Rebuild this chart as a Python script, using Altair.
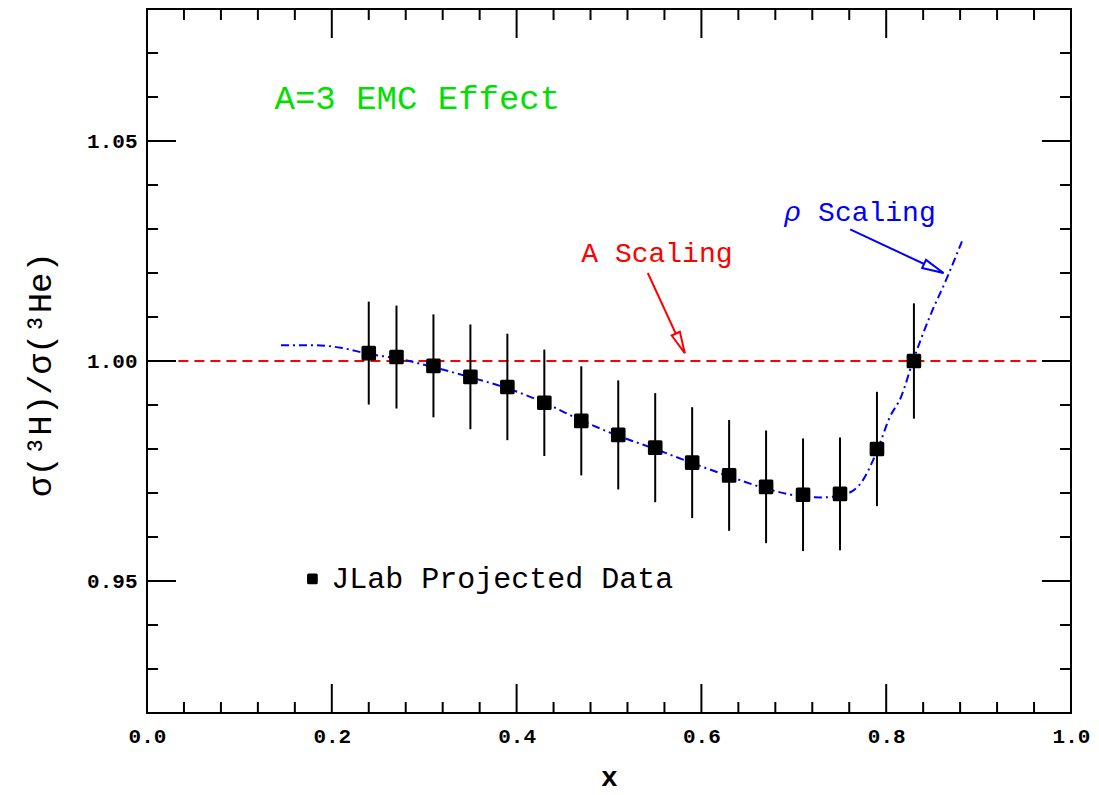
import math
import altair as alt
import pandas as pd

# ---------------- data ----------------
x_data = [0.24, 0.27, 0.31, 0.35, 0.39, 0.43, 0.47, 0.51, 0.55, 0.59, 0.63, 0.67, 0.71, 0.75, 0.79, 0.83]
y_data = [1.0018, 1.0009, 0.9989, 0.9964, 0.9941, 0.9905, 0.9864, 0.9832, 0.9803, 0.9769, 0.9740, 0.9714,
          0.9696, 0.9698, 0.9800, 1.0000]
y_err = [0.0117, 0.0117, 0.0117, 0.0119, 0.0121, 0.0121, 0.0124, 0.0124, 0.0124, 0.0126, 0.0126, 0.0128,
         0.0128, 0.0128, 0.0130, 0.0131]

rho_x = [0.145, 0.18, 0.21, 0.24, 0.27, 0.31, 0.35, 0.39, 0.43, 0.47, 0.51, 0.55, 0.59, 0.63, 0.67, 0.71,
         0.73, 0.75, 0.77, 0.79, 0.804, 0.816, 0.829, 0.847, 0.866, 0.882]
rho_y = [1.0036, 1.0036, 1.0030, 1.0016, 1.0006, 0.9986, 0.9963, 0.9938, 0.9905, 0.9865, 0.9830, 0.9800,
         0.9768, 0.9738, 0.9710, 0.9692, 0.9690, 0.9694, 0.9716, 0.9795, 0.9873, 0.9918, 1.0000, 1.0100,
         1.0190, 1.0272]

a_line_x = [0.034, 0.967]
a_line_y = [1.0, 1.0]

x_tick_labels = [0.0, 0.2, 0.4, 0.6, 0.8, 1.0]
y_tick_labels = [0.95, 1.00, 1.05]
x_major_ticks = [0.2, 0.4, 0.6, 0.8]
x_minor_ticks = [0.04, 0.08, 0.12, 0.16, 0.24, 0.28, 0.32, 0.36, 0.44, 0.48, 0.52, 0.56,
                 0.64, 0.68, 0.72, 0.76, 0.84, 0.88, 0.92, 0.96]
y_major_ticks = [0.95, 1.00, 1.05]
y_minor_ticks = [0.93, 0.94, 0.96, 0.97, 0.98, 0.99, 1.01, 1.02, 1.03, 1.04, 1.06, 1.07]

X_DOMAIN = [0.0, 1.0]
Y_DOMAIN = [0.92, 1.08]

# annotations
title_text = ["A=3 EMC Effect"]
title_x = [0.138]
title_y = [1.0595]

legend_text = ["JLab Projected Data"]
legend_text_x = [0.1994]
legend_y = [0.9505]
legend_marker_x = [0.179]

a_label = ["A Scaling"]
a_label_x = [0.470]
a_label_y = [1.0243]

rho_sym = ["ρ"]
rho_sym_x = [0.6897]
rho_word = ["Scaling"]
rho_word_x = [0.7263]
rho_label_y = [1.0337]

arrow_tail_x = [0.542, 0.761]
arrow_tail_y = [1.0200, 1.0299]
arrow_tip_x = [0.582, 0.862]
arrow_tip_y = [1.0018, 1.0200]
arrow_color = ["#ff0000", "#0000ff"]

# ---------------- layout ----------------
W, H = 924, 704
FONT = "Liberation Mono"

xs = alt.Scale(domain=X_DOMAIN, nice=False, zero=False)
ys = alt.Scale(domain=Y_DOMAIN, nice=False, zero=False)

AX = alt.Axis(
    values=x_tick_labels, format=".1f", title="x", grid=False, domain=False,
    ticks=False, tickSize=0, labelPadding=12, labelFlush=False,
    labelFont=FONT, labelFontSize=21, labelFontWeight="bold", labelColor="black",
    titleFont=FONT, titleFontSize=28, titleFontWeight="bold", titleColor="black",
    titleY=72, titleBaseline="alphabetic")
AY = alt.Axis(
    values=y_tick_labels, format=".2f", title="σ(³H)/σ(³He)", grid=False, domain=False,
    ticks=False, tickSize=0, labelPadding=10, labelFlush=False,
    labelFont=FONT, labelFontSize=21, labelFontWeight="bold", labelColor="black",
    titleFont=FONT, titleFontSize=34, titleFontWeight="normal", titleColor="black",
    titleAngle=270, titleX=-107, titleY=365, titleAlign="center", titleBaseline="middle")


def X(field):
    return alt.X(f"{field}:Q", scale=xs, axis=AX)


def Y(field):
    return alt.Y(f"{field}:Q", scale=ys, axis=AY)


px_x = W / (X_DOMAIN[1] - X_DOMAIN[0])
px_y = H / (Y_DOMAIN[1] - Y_DOMAIN[0])
angles = []
for tx, ty, hx, hy in zip(arrow_tail_x, arrow_tail_y, arrow_tip_x, arrow_tip_y):
    dx = (hx - tx) * px_x
    dy_down = -(hy - ty) * px_y
    angles.append((math.degrees(math.atan2(dx, -dy_down)) + 360) % 360)

df_pts = pd.DataFrame({"x": x_data, "y": y_data, "err": y_err})
df_rho = pd.DataFrame({"x": rho_x, "y": rho_y})
df_a = pd.DataFrame({"x": [a_line_x[0]], "x2": [a_line_x[1]], "y": [a_line_y[0]]})
df_arrow = pd.DataFrame({"x": arrow_tail_x, "y": arrow_tail_y, "x2": arrow_tip_x, "y2": arrow_tip_y,
                         "c": arrow_color, "ang": angles})

points = alt.Chart(df_pts).mark_point(
    shape="square", filled=True, size=135, color="black", stroke="black",
    strokeWidth=3, strokeJoin="round", opacity=1
).encode(x=X("x"), y=Y("y"))

errbars = alt.Chart(df_pts).transform_calculate(
    lo="datum.y - datum.err", hi="datum.y + datum.err"
).mark_rule(color="black", strokeWidth=2).encode(
    x=X("x"), y=Y("lo"), y2="hi:Q"
)

a_line = alt.Chart(df_a).mark_rule(color="#ff0000", strokeWidth=2, strokeDash=[10, 6]).encode(
    x=X("x"), x2="x2:Q", y=Y("y")
)

rho_line = alt.Chart(df_rho).mark_line(
    color="#0000ff", strokeWidth=2, strokeDash=[8, 4, 2, 4], interpolate="monotone"
).encode(x=X("x"), y=Y("y"))


# inward frame ticks (centred on the frame, half clipped away)
def tick_layer(vals, fixed, orient, length):
    if orient == "vertical":
        df = pd.DataFrame({"x": vals * 2, "y": [fixed[0]] * len(vals) + [fixed[1]] * len(vals)})
    else:
        df = pd.DataFrame({"y": vals * 2, "x": [fixed[0]] * len(vals) + [fixed[1]] * len(vals)})
    return alt.Chart(df).mark_tick(
        orient=orient, size=2 * length, thickness=2, color="black", opacity=1, clip=True
    ).encode(x=X("x"), y=Y("y"))


ticks = [
    tick_layer(x_major_ticks, Y_DOMAIN, "vertical", 29),
    tick_layer(x_minor_ticks, Y_DOMAIN, "vertical", 11),
    tick_layer(y_major_ticks, X_DOMAIN, "horizontal", 29),
    tick_layer(y_minor_ticks, X_DOMAIN, "horizontal", 11),
]


def text_layer(texts, xv, yv, color, size, style="normal", weight="normal"):
    df = pd.DataFrame({"x": xv, "y": yv, "t": texts})
    return alt.Chart(df).mark_text(
        align="left", baseline="middle", font=FONT, fontSize=size, color=color,
        fontStyle=style, fontWeight=weight
    ).encode(x=X("x"), y=Y("y"), text="t:N")


t_title = text_layer(title_text, title_x, title_y, "#00e000", 34)
t_legend = text_layer(legend_text, legend_text_x, legend_y, "black", 30)
t_a = text_layer(a_label, a_label_x, a_label_y, "#ff0000", 28)
t_rho_sym = text_layer(rho_sym, rho_sym_x, rho_label_y, "#0000ff", 28, style="italic")
t_rho_word = text_layer(rho_word, rho_word_x, rho_label_y, "#0000ff", 28)

legend_marker = alt.Chart(pd.DataFrame({"x": legend_marker_x, "y": legend_y})).mark_point(
    shape="square", filled=True, size=60, color="black", stroke="black",
    strokeWidth=3, strokeJoin="round", opacity=1
).encode(x=X("x"), y=Y("y"))

arrow_shaft = alt.Chart(df_arrow).mark_rule(strokeWidth=2).encode(
    x=X("x"), y=Y("y"), x2="x2:Q", y2="y2:Q", color=alt.Color("c:N", scale=None)
)
arrow_head = alt.Chart(df_arrow).mark_point(
    shape="M0,0L0.42,2L-0.42,2Z", size=460, filled=True, fill="white", strokeWidth=2, opacity=1
).encode(
    x=X("x2"), y=Y("y2"),
    stroke=alt.Stroke("c:N", scale=None), angle=alt.Angle("ang:Q", scale=None)
)

chart = alt.layer(
    a_line, rho_line, errbars, points, *ticks,
    t_title, t_legend, legend_marker, t_a, t_rho_sym, t_rho_word,
    arrow_shaft, arrow_head
).properties(
    width=W, height=H,
    autosize=alt.AutoSizeParams(type="none"),
    padding={"left": 139, "top": 1, "right": 20, "bottom": 80},
    background="white",
).configure_view(stroke="black", strokeWidth=2)

chart.save("out.html", embed_options={"renderer": "svg", "actions": False})
